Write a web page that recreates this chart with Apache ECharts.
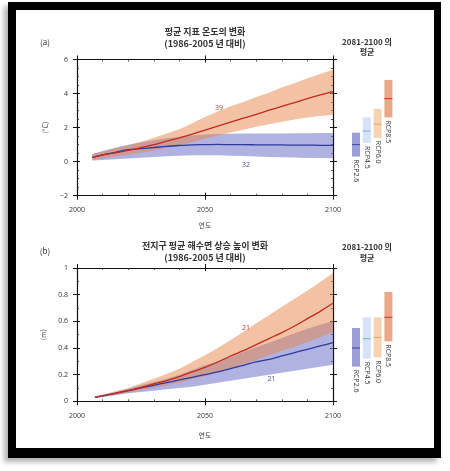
<!DOCTYPE html>
<html>
<head>
<meta charset="utf-8">
<script src="https://cdn.jsdelivr.net/npm/echarts@6/dist/echarts.min.js"></script>
<style>
	html,body{margin:0;padding:0;background:#fff;}
	#chart{position:absolute;left:0;top:0;width:450px;height:471px;}
	#frame{position:absolute;left:8px;top:2px;width:433px;height:456px;box-sizing:border-box;
		border-style:solid;border-color:#000;border-width:8px 7px 10px 8px;
		box-shadow:-4px 4px 5px rgba(0,0,0,0.3);pointer-events:none;}
</style>
</head>
<body>
<div id="chart"></div>
<div id="frame"></div>
<script>
// (a) surface temperature change
var yearsT = [2006,2010,2015,2020,2025,2030,2035,2040,2045,2050,2055,2060,2065,2070,2075,2080,2085,2090,2095,2100];
var rcp85T = [0.25,0.4,0.52,0.66,0.82,1.0,1.2,1.4,1.62,1.85,2.08,2.32,2.55,2.78,3.02,3.25,3.47,3.7,3.92,4.12];
var rcp85THigh = [0.45,0.6,0.78,0.96,1.17,1.4,1.65,1.9,2.25,2.62,2.95,3.25,3.5,3.8,4.05,4.35,4.6,4.9,5.15,5.4];
var rcp85TLow = [0.1,0.2,0.3,0.41,0.53,0.66,0.8,0.96,1.15,1.35,1.53,1.71,1.88,2.05,2.2,2.35,2.48,2.6,2.68,2.75];
var rcp26T = [0.25,0.4,0.55,0.7,0.77,0.83,0.9,0.95,0.99,1.0,1.01,1.0,1.0,0.99,0.98,0.98,0.97,0.97,0.96,0.96];
var rcp26THigh = [0.45,0.62,0.82,1.0,1.13,1.26,1.37,1.46,1.54,1.6,1.63,1.64,1.65,1.65,1.66,1.66,1.67,1.67,1.68,1.68];
var rcp26TLow = [0.07,0.1,0.14,0.18,0.23,0.28,0.32,0.35,0.37,0.38,0.37,0.35,0.33,0.3,0.28,0.26,0.24,0.22,0.21,0.2];

// (b) sea level rise
var yearsS = [2007,2010,2015,2020,2025,2030,2035,2040,2045,2050,2055,2060,2065,2070,2075,2080,2085,2090,2095,2100];
var rcp85S = [0.03,0.04,0.06,0.08,0.105,0.13,0.155,0.185,0.22,0.255,0.295,0.34,0.38,0.425,0.47,0.515,0.565,0.62,0.675,0.735];
var rcp85SHigh = [0.035,0.05,0.075,0.1,0.135,0.17,0.205,0.245,0.295,0.345,0.4,0.46,0.52,0.585,0.645,0.71,0.77,0.83,0.895,0.96];
var rcp85SLow = [0.025,0.035,0.05,0.065,0.085,0.1,0.12,0.14,0.165,0.19,0.22,0.25,0.28,0.31,0.345,0.38,0.41,0.445,0.48,0.52];
var rcp26S = [0.03,0.04,0.06,0.08,0.1,0.12,0.14,0.16,0.18,0.2,0.22,0.245,0.27,0.295,0.315,0.34,0.365,0.39,0.415,0.44];
var rcp26SHigh = [0.035,0.05,0.07,0.095,0.12,0.145,0.17,0.2,0.235,0.27,0.3,0.335,0.37,0.405,0.44,0.475,0.51,0.545,0.575,0.6];
var rcp26SLow = [0.025,0.032,0.045,0.06,0.07,0.08,0.09,0.1,0.11,0.125,0.14,0.155,0.17,0.185,0.2,0.215,0.23,0.245,0.26,0.275];

// 2081-2100 mean and range
var rcpNames = ['RCP2.6','RCP4.5','RCP6.0','RCP8.5'];
var tempMean = [1.0,1.8,2.2,3.7];
var tempLow = [0.3,1.1,1.4,2.6];
var tempHigh = [1.7,2.6,3.1,4.8];
var slrMean = [0.40,0.47,0.48,0.63];
var slrLow = [0.26,0.32,0.33,0.45];
var slrHigh = [0.55,0.63,0.63,0.82];

// model counts written on the plots
var notesT = [[2055.5, 3.17, '39'], [2066, -0.2, '32']];
var notesS = [[2066, 0.55, '21'], [2076, 0.165, '21']];

var boxColors = ['#9c9ed8','#d6e2f5','#f7d3b2','#eaa88a'];
var meanColors = ['#3c44a4','#86a9e0','#eba466','#c8321f'];
var noteColors = ['#d03232','#4a4fa8'];

var numFont = '"Open Sans", "Noto Sans", sans-serif';
var krFont = '"Noto Sans CJK KR", sans-serif';

function pairs(xs, ys){
	var out = [];
	for(var i=0;i<xs.length;i++){ out.push([xs[i], ys[i]]); }
	return out;
}

// outer ticks + inner ticks (with minor) for bottom/top or left/right
function frameAxes(isX, grid, min, max, interval, minorSplit, fmt, name, nameGap){
	var pos = isX ? ['bottom','top'] : ['left','right'];
	var list = [];
	for(var k=0;k<2;k++){
		list.push({
			type:'value', gridIndex:grid, position:pos[k], min:min, max:max, interval:interval,
			name: k==0 ? name : '', nameLocation:'middle', nameGap:nameGap,
			nameTextStyle:{color:'#444', fontSize:7, fontFamily:krFont},
			axisLine:{show:true, onZero:false, lineStyle:{color:'#111', width:1.2}},
			axisTick:{show:true, inside:false, length:4, lineStyle:{color:'#111', width:1}},
			minorTick:{show:false},
			axisLabel:{show:k==0, color:'#333', fontSize:7, fontFamily:numFont, margin: isX ? 11 : 9, formatter:fmt},
			splitLine:{show:false}
		});
		list.push({
			type:'value', gridIndex:grid, position:pos[k], min:min, max:max, interval:interval,
			axisLine:{show:false, onZero:false},
			axisTick:{show:true, inside:true, length:3, lineStyle:{color:'#111', width:1}},
			minorTick:{show:true, splitNumber:minorSplit, length:2, lineStyle:{color:'#333', width:0.8}},
			axisLabel:{show:false},
			splitLine:{show:false}
		});
	}
	return list;
}

function bandSeries(xi, yi, xs, low, high, color){
	return {
		type:'custom', xAxisIndex:xi, yAxisIndex:yi, silent:true, clip:true,
		data:[[xs[0], low[0]]],
		renderItem:function(params, api){
			var pts = [];
			for(var i=0;i<xs.length;i++){ pts.push(api.coord([xs[i], high[i]])); }
			for(var j=xs.length-1;j>=0;j--){ pts.push(api.coord([xs[j], low[j]])); }
			return {type:'polygon', shape:{points:pts}, style:{fill:color}};
		}
	};
}

function lineSeries(xi, yi, xs, ys, color){
	return {
		type:'line', xAxisIndex:xi, yAxisIndex:yi, data:pairs(xs, ys), showSymbol:false, silent:true,
		smooth:0.3, lineStyle:{color:color, width:1.3}
	};
}

function boxSeries(xi, yi, low, mean, high){
	var data = [];
	for(var i=0;i<rcpNames.length;i++){ data.push([i, low[i], mean[i], high[i]]); }
	return {
		type:'custom', xAxisIndex:xi, yAxisIndex:yi, silent:true, data:data,
		renderItem:function(params, api){
			var i = params.dataIndex;
			var top = api.coord([api.value(0), api.value(3)]);
			var bot = api.coord([api.value(0), api.value(1)]);
			var mid = api.coord([api.value(0), api.value(2)]);
			var w = 8;
			return {type:'group', children:[
				{type:'rect', shape:{x:top[0]-w/2, y:top[1], width:w, height:bot[1]-top[1]}, style:{fill:boxColors[i]}},
				{type:'line', shape:{x1:top[0]-w/2, y1:mid[1], x2:top[0]+w/2, y2:mid[1]}, style:{stroke:meanColors[i], lineWidth:1}},
				{type:'text', x:top[0], y:bot[1]+3, rotation:-Math.PI/2,
					style:{text:rcpNames[i], fill:'#333', font:'7px ' + numFont, align:'left', verticalAlign:'middle'}}
			]};
		}
	};
}

function noteSeries(xi, yi, notes){
	return {
		type:'custom', xAxisIndex:xi, yAxisIndex:yi, silent:true, z:5,
		data:notes.map(function(n){ return [n[0], n[1]]; }),
		renderItem:function(params, api){
			var p = api.coord([api.value(0), api.value(1)]);
			return {type:'text', x:p[0], y:p[1],
				style:{text:notes[params.dataIndex][2], fill:noteColors[params.dataIndex],
					font:'7px ' + numFont, align:'center', verticalAlign:'middle'}};
		}
	};
}

function minusFmt(v){ return String(v).replace('-', '\u2212'); }
function yearFmt(v){ return String(v); }

var xAxes = [].concat(
	frameAxes(true, 0, 2000, 2100, 50, 5, yearFmt, '연도', 26),
	frameAxes(true, 1, 2000, 2100, 50, 5, yearFmt, '연도', 31),
	[{type:'category', gridIndex:2, data:rcpNames, show:false},
	 {type:'category', gridIndex:3, data:rcpNames, show:false}]
);
var yAxes = [].concat(
	frameAxes(false, 0, -2, 6, 2, 4, minusFmt, '(°C)', 27),
	frameAxes(false, 1, 0, 1, 0.2, 2, null, '(m)', 27),
	[{type:'value', gridIndex:2, min:-2, max:6, show:false},
	 {type:'value', gridIndex:3, min:0, max:1, show:false}]
);

function header(x, y, text, size, bold){
	return {type:'text', x:x, y:y, silent:true,
		style:{text:text, fill:'#333', align:'center', verticalAlign:'middle',
			font:(bold ? 'bold ' : '') + size + 'px ' + krFont}};
}

var myChart = echarts.init(document.getElementById('chart'));
myChart.setOption({
	backgroundColor:'#fff',
	animation:false,
	grid:[
		{left:77, top:59.5, width:256, height:136.2},
		{left:77, top:268, width:256, height:133.3},
		{left:350.6, top:59.5, width:43.2, height:136.2},
		{left:350.6, top:268, width:43.2, height:133.3}
	],
	xAxis:xAxes,
	yAxis:yAxes,
	graphic:[
		header(45, 42, '(a)', 8, false),
		header(205, 32, '평균 지표 온도의 변화', 9, true),
		header(205, 43.5, '(1986-2005 년 대비)', 9, true),
		header(367, 41.5, '2081-2100 의', 8, true),
		header(367, 51.5, '평균', 8, true),
		header(45, 251, '(b)', 8, false),
		header(205, 246, '전지구 평균 해수면 상승 높이 변화', 9, true),
		header(205, 258, '(1986-2005 년 대비)', 9, true),
		header(367, 246.5, '2081-2100 의', 8, true),
		header(367, 258, '평균', 8, true)
	],
	series:[
		bandSeries(0, 0, yearsT, rcp26TLow, rcp26THigh, 'rgba(112,117,202,0.55)'),
		bandSeries(0, 0, yearsT, rcp85TLow, rcp85THigh, 'rgba(232,132,72,0.5)'),
		lineSeries(0, 0, yearsT, rcp26T, '#2e3a9c'),
		lineSeries(0, 0, yearsT, rcp85T, '#c4281c'),
		noteSeries(0, 0, notesT),

		bandSeries(4, 4, yearsS, rcp26SLow, rcp26SHigh, 'rgba(112,117,202,0.55)'),
		bandSeries(4, 4, yearsS, rcp85SLow, rcp85SHigh, 'rgba(232,132,72,0.5)'),
		lineSeries(4, 4, yearsS, rcp26S, '#2e3a9c'),
		lineSeries(4, 4, yearsS, rcp85S, '#c4281c'),
		noteSeries(4, 4, notesS),

		boxSeries(8, 8, tempLow, tempMean, tempHigh),
		boxSeries(9, 9, slrLow, slrMean, slrHigh)
	]
});
</script>
</body>
</html>
